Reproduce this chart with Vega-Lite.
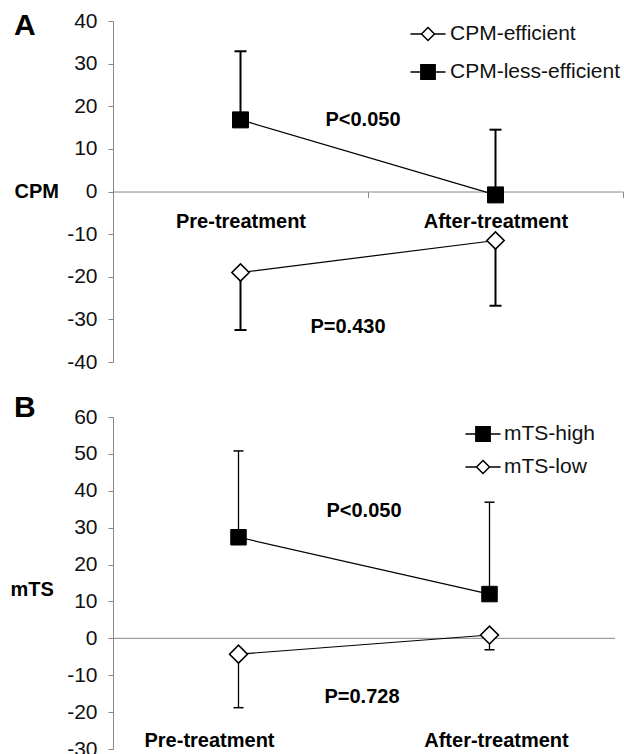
{
  "$schema": "https://vega.github.io/schema/vega-lite/v6.json",
  "background": "white",
  "padding": {"left": 10, "top": 10, "right": 0, "bottom": 0},
  "spacing": 21,
  "config": {
    "font": "Liberation Sans",
    "view": {"stroke": null},
    "axis": {"grid": false, "domainColor": "#888", "tickColor": "#888", "labelFont": "Liberation Sans", "labelColor": "#111", "labelFontSize": 21, "titleColor": "#000", "titleFont": "Liberation Sans", "labelOverlap": false},
    "legend": {"labelFont": "Liberation Sans", "labelLimit": 400}
  },
  "datasets": {
    "A": [
      {"time": "Pre-treatment", "group": "CPM-efficient", "mean": -19, "err": -32.5},
      {"time": "After-treatment", "group": "CPM-efficient", "mean": -11.5, "err": -26.8},
      {"time": "Pre-treatment", "group": "CPM-less-efficient", "mean": 16.8, "err": 32.9},
      {"time": "After-treatment", "group": "CPM-less-efficient", "mean": -0.8, "err": 14.5}
    ],
    "B": [
      {"time": "Pre-treatment", "group": "mTS-high", "mean": 27.4, "err": 50.8},
      {"time": "After-treatment", "group": "mTS-high", "mean": 12, "err": 36.9},
      {"time": "Pre-treatment", "group": "mTS-low", "mean": -4.3, "err": -18.8},
      {"time": "After-treatment", "group": "mTS-low", "mean": 0.9, "err": -3.1}
    ]
  },
  "resolve": {"scale": {"shape": "independent", "fill": "independent", "stroke": "independent", "x": "independent", "y": "independent"}, "legend": {"shape": "independent", "fill": "independent", "stroke": "independent"}},
  "vconcat": [
    {
      "width": 510,
      "height": 341,
      "title": {"text": "A", "anchor": "start", "frame": "group", "orient": "top", "fontSize": 30, "fontWeight": "bold", "color": "#000", "font": "Liberation Sans", "baseline": "alphabetic", "offset": 0, "dx": -99, "dy": 55},
      "layer": [
        {
          "data": {"name": "A"},
          "mark": {"type": "rule", "color": "black", "strokeWidth": 2},
          "encoding": {
            "x": {"field": "time", "type": "nominal", "scale": {"domain": ["Pre-treatment", "After-treatment"], "paddingInner": 0, "paddingOuter": 0},
              "axis": {"title": null, "labelFontSize": 20, "labelFontWeight": "bold", "labelColor": "#000", "offset": -170.5, "tickBand": "extent", "tickSize": 6, "labelPadding": 14, "labelAngle": 0}},
            "y": {"field": "mean", "type": "quantitative", "scale": {"domain": [-40, 40], "nice": false},
              "axis": {"values": [-40, -30, -20, -10, 0, 10, 20, 30, 40], "tickCount": 20, "labelOverlap": false, "labelExpr": "'' + datum.value", "tickSize": 5, "labelPadding": 11, "title": "CPM", "titleAngle": 0, "titleAlign": "left", "titleBaseline": "middle", "titleX": -99, "titleY": 170.5, "titleFontSize": 20, "titleFontWeight": "bold"}},
            "y2": {"field": "err"}
          }
        },
        {
          "data": {"name": "A"},
          "mark": {"type": "tick", "color": "black", "size": 12, "thickness": 2, "opacity": 1},
          "encoding": {
            "x": {"field": "time", "type": "nominal"},
            "y": {"field": "err", "type": "quantitative"}
          }
        },
        {
          "data": {"name": "A"},
          "mark": {"type": "line", "color": "black", "strokeWidth": 1.2},
          "encoding": {
            "x": {"field": "time", "type": "nominal"},
            "y": {"field": "mean", "type": "quantitative"},
            "detail": {"field": "group"}
          }
        },
        {
          "data": {"name": "A"},
          "mark": {"type": "point", "opacity": 0, "size": 169},
          "encoding": {
            "x": {"field": "time", "type": "nominal"},
            "y": {"field": "mean", "type": "quantitative"},
            "shape": {"field": "group", "type": "nominal", "scale": {"domain": ["CPM-efficient", "CPM-less-efficient"], "range": ["M-2.7,0H-1M1,0H2.7M0,-1L1,0L0,1L-1,0Z", "M-2.7,0H-1.1M1.1,0H2.7M-1.1,-1.1H1.1V1.1H-1.1Z"]},
              "legend": {"orient": "none", "legendX": 304.5, "legendY": 2.5, "title": null, "labelFontSize": 21, "labelColor": "#111", "symbolSize": 169, "symbolStrokeWidth": 1.5, "symbolOpacity": 1, "rowPadding": 16, "labelOffset": 11.5}},
            "fill": {"field": "group", "type": "nominal", "scale": {"domain": ["CPM-efficient", "CPM-less-efficient"], "range": ["white", "black"]},
              "legend": {"orient": "none", "legendX": 304.5, "legendY": 2.5, "title": null, "labelFontSize": 21, "labelColor": "#111", "symbolSize": 169, "symbolStrokeWidth": 1.5, "symbolOpacity": 1, "rowPadding": 16, "labelOffset": 11.5}},
            "stroke": {"field": "group", "type": "nominal", "scale": {"domain": ["CPM-efficient", "CPM-less-efficient"], "range": ["black", "black"]},
              "legend": {"orient": "none", "legendX": 304.5, "legendY": 2.5, "title": null, "labelFontSize": 21, "labelColor": "#111", "symbolSize": 169, "symbolStrokeWidth": 1.5, "symbolOpacity": 1, "rowPadding": 16, "labelOffset": 11.5}}
          }
        },
        {
          "data": {"name": "A"},
          "transform": [{"filter": "datum.group === 'CPM-efficient'"}],
          "mark": {"type": "point", "shape": "diamond", "filled": true, "fill": "white", "opacity": 1, "stroke": "black", "strokeWidth": 1.6, "size": 300},
          "encoding": {
            "x": {"field": "time", "type": "nominal"},
            "y": {"field": "mean", "type": "quantitative"}
          }
        },
        {
          "data": {"name": "A"},
          "transform": [{"filter": "datum.group === 'CPM-less-efficient'"}],
          "mark": {"type": "point", "shape": "square", "filled": true, "fill": "black", "opacity": 1, "stroke": "black", "strokeWidth": 1, "size": 256},
          "encoding": {
            "x": {"field": "time", "type": "nominal"},
            "y": {"field": "mean", "type": "quantitative"}
          }
        },
        {
          "data": {"values": [{"label": "P<0.050", "y": 16.8}]},
          "mark": {"type": "text", "fontSize": 20, "fontWeight": "bold", "color": "#000", "dx": 122.5, "baseline": "middle"},
          "encoding": {
            "x": {"datum": "Pre-treatment", "type": "nominal"},
            "y": {"field": "y", "type": "quantitative"},
            "text": {"field": "label"}
          }
        },
        {
          "data": {"values": [{"label": "P=0.430", "y": -31.8}]},
          "mark": {"type": "text", "fontSize": 20, "fontWeight": "bold", "color": "#000", "dx": 107.5, "baseline": "middle"},
          "encoding": {
            "x": {"datum": "Pre-treatment", "type": "nominal"},
            "y": {"field": "y", "type": "quantitative"},
            "text": {"field": "label"}
          }
        }
      ]
    },
    {
      "width": 502,
      "height": 332,
      "title": {"text": "B", "anchor": "start", "frame": "group", "orient": "top", "fontSize": 30, "fontWeight": "bold", "color": "#000", "font": "Liberation Sans", "baseline": "alphabetic", "offset": 0, "dx": -99, "dy": 41},
      "layer": [
        {
          "data": {"name": "B"},
          "mark": {"type": "rule", "color": "black", "strokeWidth": 1.3},
          "encoding": {
            "x": {"field": "time", "type": "nominal", "scale": {"domain": ["Pre-treatment", "After-treatment"], "paddingInner": 0, "paddingOuter": 0},
              "axis": {"title": null, "labelFontSize": 20, "labelFontWeight": "bold", "labelColor": "#000", "offset": -24, "domain": false, "ticks": false, "labelPadding": 5, "labelAngle": 0,
                "labelOffset": {"condition": {"test": "datum.value === 'Pre-treatment'", "value": -29}, "value": 7}}},
            "y": {"field": "mean", "type": "quantitative", "scale": {"domain": [-30, 60], "nice": false},
              "axis": {"values": [-30, -20, -10, 0, 10, 20, 30, 40, 50, 60], "tickCount": 20, "labelOverlap": false, "labelExpr": "'' + datum.value", "tickSize": 5, "labelPadding": 11, "title": "mTS", "titleAngle": 0, "titleAlign": "left", "titleBaseline": "middle", "titleX": -103, "titleY": 172, "titleFontSize": 20, "titleFontWeight": "bold"}},
            "y2": {"field": "err"}
          }
        },
        {
          "data": {"values": [{"zero": 0}]},
          "mark": {"type": "rule", "color": "#888", "strokeWidth": 1},
          "encoding": {
            "y": {"field": "zero", "type": "quantitative"}
          }
        },
        {
          "data": {"name": "B"},
          "mark": {"type": "tick", "color": "black", "size": 10, "thickness": 1.5, "opacity": 1},
          "encoding": {
            "x": {"field": "time", "type": "nominal"},
            "y": {"field": "err", "type": "quantitative"}
          }
        },
        {
          "data": {"name": "B"},
          "mark": {"type": "line", "color": "black", "strokeWidth": 1.2},
          "encoding": {
            "x": {"field": "time", "type": "nominal"},
            "y": {"field": "mean", "type": "quantitative"},
            "detail": {"field": "group"}
          }
        },
        {
          "data": {"name": "B"},
          "mark": {"type": "point", "opacity": 0, "size": 169},
          "encoding": {
            "x": {"field": "time", "type": "nominal"},
            "y": {"field": "mean", "type": "quantitative"},
            "shape": {"field": "group", "type": "nominal", "scale": {"domain": ["mTS-high", "mTS-low"], "range": ["M-2.7,0H-1.1M1.1,0H2.7M-1.1,-1.1H1.1V1.1H-1.1Z", "M-2.7,0H-1M1,0H2.7M0,-1L1,0L0,1L-1,0Z"]},
              "legend": {"orient": "none", "legendX": 359.5, "legendY": 6.5, "title": null, "labelFontSize": 21, "labelColor": "#111", "symbolSize": 169, "symbolStrokeWidth": 1.5, "symbolOpacity": 1, "rowPadding": 11, "labelOffset": 10.5}},
            "fill": {"field": "group", "type": "nominal", "scale": {"domain": ["mTS-high", "mTS-low"], "range": ["black", "white"]},
              "legend": {"orient": "none", "legendX": 359.5, "legendY": 6.5, "title": null, "labelFontSize": 21, "labelColor": "#111", "symbolSize": 169, "symbolStrokeWidth": 1.5, "symbolOpacity": 1, "rowPadding": 11, "labelOffset": 10.5}},
            "stroke": {"field": "group", "type": "nominal", "scale": {"domain": ["mTS-high", "mTS-low"], "range": ["black", "black"]},
              "legend": {"orient": "none", "legendX": 359.5, "legendY": 6.5, "title": null, "labelFontSize": 21, "labelColor": "#111", "symbolSize": 169, "symbolStrokeWidth": 1.5, "symbolOpacity": 1, "rowPadding": 11, "labelOffset": 10.5}}
          }
        },
        {
          "data": {"name": "B"},
          "transform": [{"filter": "datum.group === 'mTS-low'"}],
          "mark": {"type": "point", "shape": "diamond", "filled": true, "fill": "white", "opacity": 1, "stroke": "black", "strokeWidth": 1.6, "size": 320},
          "encoding": {
            "x": {"field": "time", "type": "nominal"},
            "y": {"field": "mean", "type": "quantitative"}
          }
        },
        {
          "data": {"name": "B"},
          "transform": [{"filter": "datum.group === 'mTS-high'"}],
          "mark": {"type": "point", "shape": "square", "filled": true, "fill": "black", "opacity": 1, "stroke": "black", "strokeWidth": 1, "size": 240},
          "encoding": {
            "x": {"field": "time", "type": "nominal"},
            "y": {"field": "mean", "type": "quantitative"}
          }
        },
        {
          "data": {"values": [{"label": "P<0.050", "y": 34.4}]},
          "mark": {"type": "text", "fontSize": 20, "fontWeight": "bold", "color": "#000", "dx": 125.5, "baseline": "middle"},
          "encoding": {
            "x": {"datum": "Pre-treatment", "type": "nominal"},
            "y": {"field": "y", "type": "quantitative"},
            "text": {"field": "label"}
          }
        },
        {
          "data": {"values": [{"label": "P=0.728", "y": -15.8}]},
          "mark": {"type": "text", "fontSize": 20, "fontWeight": "bold", "color": "#000", "dx": 123.5, "baseline": "middle"},
          "encoding": {
            "x": {"datum": "Pre-treatment", "type": "nominal"},
            "y": {"field": "y", "type": "quantitative"},
            "text": {"field": "label"}
          }
        }
      ]
    }
  ]
}
